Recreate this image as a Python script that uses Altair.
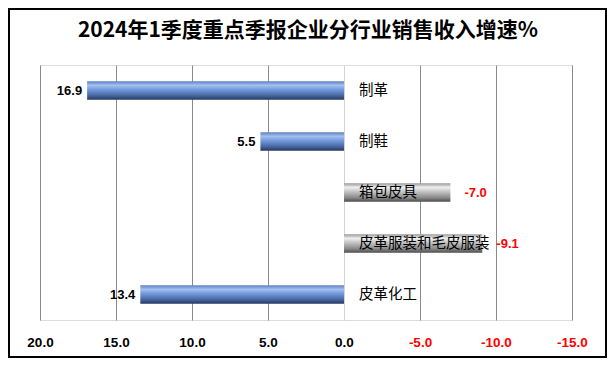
import altair as alt
import pandas as pd

categories = ["制革", "制鞋", "箱包皮具", "皮革服装和毛皮服装", "皮革化工"]
values = [16.9, 5.5, -7.0, -9.1, 13.4]
tick_values = [20, 15, 10, 5, 0, -5, -10, -15]
title_text = "2024年1季度重点季报企业分行业销售收入增速%"

df = pd.DataFrame({"cat": categories, "value": values})
df["label"] = [("-" if v < 0 else "") + f"{abs(v):.1f}" for v in values]

CJK = "Noto Sans CJK SC"
NUM = "Liberation Sans"

x_scale = alt.Scale(domain=[-15, 20], reverse=True, nice=False, zero=False)
y_scale = alt.Scale(domain=categories, paddingInner=0.64, paddingOuter=0.32)

blue = alt.Gradient(
    gradient="linear", x1=0, x2=0, y1=0, y2=1,
    stops=[
        alt.GradientStop(offset=0.0, color="#5f82c4"),
        alt.GradientStop(offset=0.22, color="#a3c0f0"),
        alt.GradientStop(offset=0.45, color="#7499dd"),
        alt.GradientStop(offset=0.78, color="#46669f"),
        alt.GradientStop(offset=1.0, color="#243960"),
    ],
)
gray = alt.Gradient(
    gradient="linear", x1=0, x2=0, y1=0, y2=1,
    stops=[
        alt.GradientStop(offset=0.0, color="#9a9a9a"),
        alt.GradientStop(offset=0.22, color="#efefef"),
        alt.GradientStop(offset=0.45, color="#c4c4c4"),
        alt.GradientStop(offset=0.78, color="#8a8a8a"),
        alt.GradientStop(offset=1.0, color="#4e4e4e"),
    ],
)

base = alt.Chart(df)

x_axis = alt.Axis(
    values=tick_values,
    grid=True,
    gridColor={"condition": {"test": "datum.value == 0", "value": "#d4d4d4"}, "value": "#8a8a8a"},
    gridWidth=1,
    ticks=False,
    domain=False,
    labelFlush=False,
    labelOverlap=False,
    labelExpr="(datum.value < 0 ? '-' : '') + format(abs(datum.value), '.1f')",
    labelColor={"condition": {"test": "datum.value < 0", "value": "#ff0000"}, "value": "#000000"},
    labelFont=NUM,
    labelFontSize=13.5,
    labelFontWeight="bold",
    labelPadding=15,
    title=None,
)

grid = base.mark_bar(opacity=0).encode(
    x=alt.X("value:Q", scale=x_scale, axis=x_axis),
    y=alt.Y("cat:N", scale=y_scale, axis=None),
)

pos_bars = base.transform_filter("datum.value >= 0").mark_bar(color=blue).encode(
    x=alt.X("value:Q", scale=x_scale),
    x2=alt.datum(0),
    y=alt.Y("cat:N", scale=y_scale),
)
neg_bars = base.transform_filter("datum.value < 0").mark_bar(color=gray).encode(
    x=alt.X("value:Q", scale=x_scale),
    x2=alt.datum(0),
    y=alt.Y("cat:N", scale=y_scale),
)

cat_text = base.mark_text(
    align="left", baseline="middle", dx=15, font=CJK, fontSize=14.5, color="#000000"
).encode(
    x=alt.datum(0),
    y=alt.Y("cat:N", scale=y_scale),
    text="cat:N",
)

pos_text = base.transform_filter("datum.value >= 0").mark_text(
    align="right", baseline="middle", dx=-5, font=NUM, fontSize=13, fontWeight="bold", color="#000000"
).encode(
    x=alt.X("value:Q", scale=x_scale),
    y=alt.Y("cat:N", scale=y_scale),
    text="label:N",
)
neg_text = base.transform_filter("datum.value < 0").mark_text(
    align="left", baseline="middle", dx=14, font=NUM, fontSize=13, fontWeight="bold", color="#ff0000"
).encode(
    x=alt.X("value:Q", scale=x_scale),
    y=alt.Y("cat:N", scale=y_scale),
    text="label:N",
)

one = pd.DataFrame({"k": [0]})

frame = alt.Chart(one).mark_rect(
    fill=None, stroke="#000000", strokeWidth=2
).encode(
    x=alt.value(-31), x2=alt.value(566), y=alt.value(-56), y2=alt.value(292)
)

title = alt.Chart(one).mark_text(
    text=title_text, font=CJK, fontSize=21, fontWeight="bold", color="#000000",
    align="center", baseline="middle",
).encode(x=alt.value(268), y=alt.value(-34))

chart = alt.layer(
    grid, pos_bars, neg_bars, cat_text, pos_text, neg_text, frame, title
).properties(
    width=532,
    height=255,
    padding={"left": 32, "right": 35, "top": 57, "bottom": 38},
    autosize=alt.AutoSizeParams(type="none"),
).configure_view(stroke=None).configure(background="#ffffff")

chart.save("out.html", embed_options={"renderer": "svg", "actions": False})
